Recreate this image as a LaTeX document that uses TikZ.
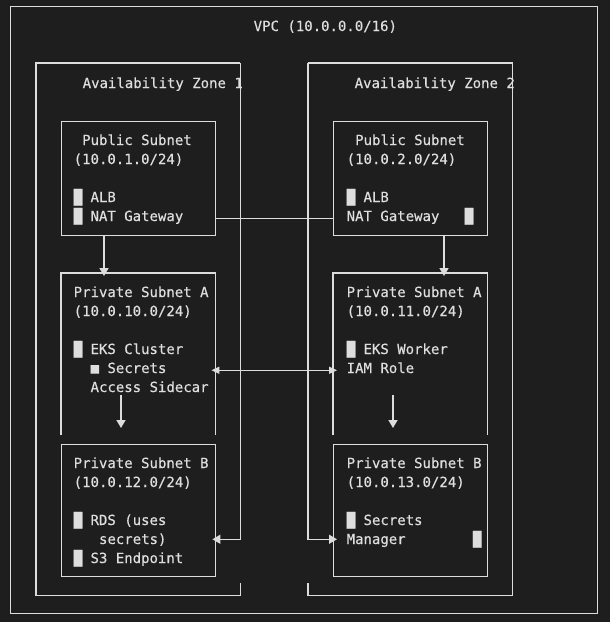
\documentclass[tikz,border=0pt]{standalone}
\usepackage{fontspec}
\setmainfont[FakeBold=0.35]{DejaVu Sans Mono}
\usetikzlibrary{arrows.meta}
\definecolor{bgc}{RGB}{30,30,30}
\definecolor{fgc}{RGB}{222,222,222}
\definecolor{lnc}{RGB}{220,220,220}
\begin{document}
\begin{tikzpicture}[x=1pt,y=-1pt,
  box/.style={draw=lnc,line width=1.4pt,inner sep=0pt,anchor=north west,minimum width=154pt},
  frame/.style={inner sep=0pt,anchor=north west},
  txt/.style={text=fgc,inner sep=0pt,anchor=base west,font=\fontsize{14}{19}\selectfont},
  ln/.style={draw=lnc,line width=1.4pt},
  arr/.style={ln,-{Triangle[width=9pt,length=8pt]}},
  darr/.style={ln,{Triangle[width=7pt,length=8pt]}-{Triangle[width=7pt,length=8pt]}}]
\fill[bgc] (0,0) rectangle (610,622);
\useasboundingbox (0,0) rectangle (610,622);

% containers
\node[box,minimum width=587pt,minimum height=607pt] (vpc) at (10,6) {};
\node[frame,minimum width=204pt,minimum height=532pt] (az1) at (36,63) {};
\node[frame,minimum width=204pt,minimum height=532pt] (az2) at (308,63) {};
\node[box,minimum height=114pt] (pub1) at (61,121) {};
\node[box,minimum height=114pt] (pub2) at (333,121) {};
\node[frame,minimum width=154pt,minimum height=162pt] (pa1) at (61,273) {};
\node[frame,minimum width=154pt,minimum height=162pt] (pa2) at (333,273) {};
\node[box,minimum height=132pt] (pb1) at (61,444) {};
\node[box,minimum height=132pt] (pb2) at (333,444) {};

% open outlines
\draw[ln] ([yshift=12pt]az1.south east) -- (az1.south east) -- (az1.south west) -- (az1.north west) -- (az1.north east);
\draw[ln] ([yshift=12pt]az2.south west) -- (az2.south west) -- (az2.south east) -- (az2.north east) -- (az2.north west);
\draw[ln] (pa1.south west) -- (pa1.north west) -- (pa1.north east) -- (pa1.south east);
\draw[ln] (pa2.south west) -- (pa2.north west) -- (pa2.north east) -- (pa2.south east);

% texts
\node[txt] (vpct) at (253.5,31) {VPC (10.0.0.0/16)};
\node[txt] (az1t) at (82.5,88) {Availability Zone 1};
\node[txt] (az2t) at (354.5,88) {Availability Zone 2};

\node[txt] (pub1a) at (82,145) {Public Subnet};
\node[txt] (pub1b) at (73.5,164) {(10.0.1.0/24)};
\node[txt] (alb1) at (73.5,202) {█ ALB};
\node[txt] (nat1) at (73.5,221) {█ NAT Gateway};

\node[txt] (pub2a) at (355,145) {Public Subnet};
\node[txt] (pub2b) at (346.5,164) {(10.0.2.0/24)};
\node[txt] (alb2) at (346.5,202) {█ ALB};
\node[txt] (nat2) at (346.5,221) {NAT Gateway~~~█};

\node[txt] (pa1a) at (73.5,297) {Private Subnet A};
\node[txt] (pa1b) at (73.5,316) {(10.0.10.0/24)};
\node[txt] (eks1) at (73.5,354) {█ EKS Cluster};
\node[txt] (sec1) at (90.4,373) {■ Secrets};
\node[txt] (acc1) at (90.4,392) {Access Sidecar};

\node[txt] (pa2a) at (346.5,297) {Private Subnet A};
\node[txt] (pa2b) at (346.5,316) {(10.0.11.0/24)};
\node[txt] (eks2) at (346.5,354) {█ EKS Worker};
\node[txt] (iam2) at (346.5,373) {IAM Role};

\node[txt] (pb1a) at (73.5,468) {Private Subnet B};
\node[txt] (pb1b) at (73.5,487) {(10.0.12.0/24)};
\node[txt] (rds1) at (73.5,525) {█ RDS (uses};
\node[txt] (sec2) at (98.85,544) {secrets)};
\node[txt] (s3e) at (73.5,563) {█ S3 Endpoint};

\node[txt] (pb2a) at (346.5,468) {Private Subnet B};
\node[txt] (pb2b) at (346.5,487) {(10.0.13.0/24)};
\node[txt] (sm1) at (346.5,525) {█ Secrets};
\node[txt] (man) at (346.5,544) {Manager~~~~~~~~█};

% connectors
\draw[arr,shorten >=-3pt] ([xshift=43pt]pub1.south west) -- ([xshift=43pt]pa1.north west);
\draw[arr,shorten >=-3pt] ([xshift=111pt]pub2.south west) -- ([xshift=111pt]pa2.north west);
\draw[ln] (pub1.east |- nat1.mid) -- (pub2.west |- nat1.mid);
\draw[darr,shorten <=-4pt,shorten >=-4pt] (pa1.east |- sec1.mid) -- (pa2.west |- sec1.mid);
\coordinate (d1s) at (121,395);
\coordinate (d1e) at (121,428);
\coordinate (d2s) at (393,395);
\coordinate (d2e) at (393,428);
\draw[arr] (d1s) -- (d1e);
\draw[arr] (d2s) -- (d2e);
\draw[arr,shorten >=-4pt] (az1.north east) -- ([yshift=2pt]az1.east |- sec2.mid) -- ([yshift=2pt]pb1.east |- sec2.mid);
\draw[arr,shorten >=-4pt] (az2.north west) -- ([yshift=2pt]az2.west |- man.mid) -- ([yshift=2pt]pb2.west |- man.mid);
\end{tikzpicture}
\end{document}
